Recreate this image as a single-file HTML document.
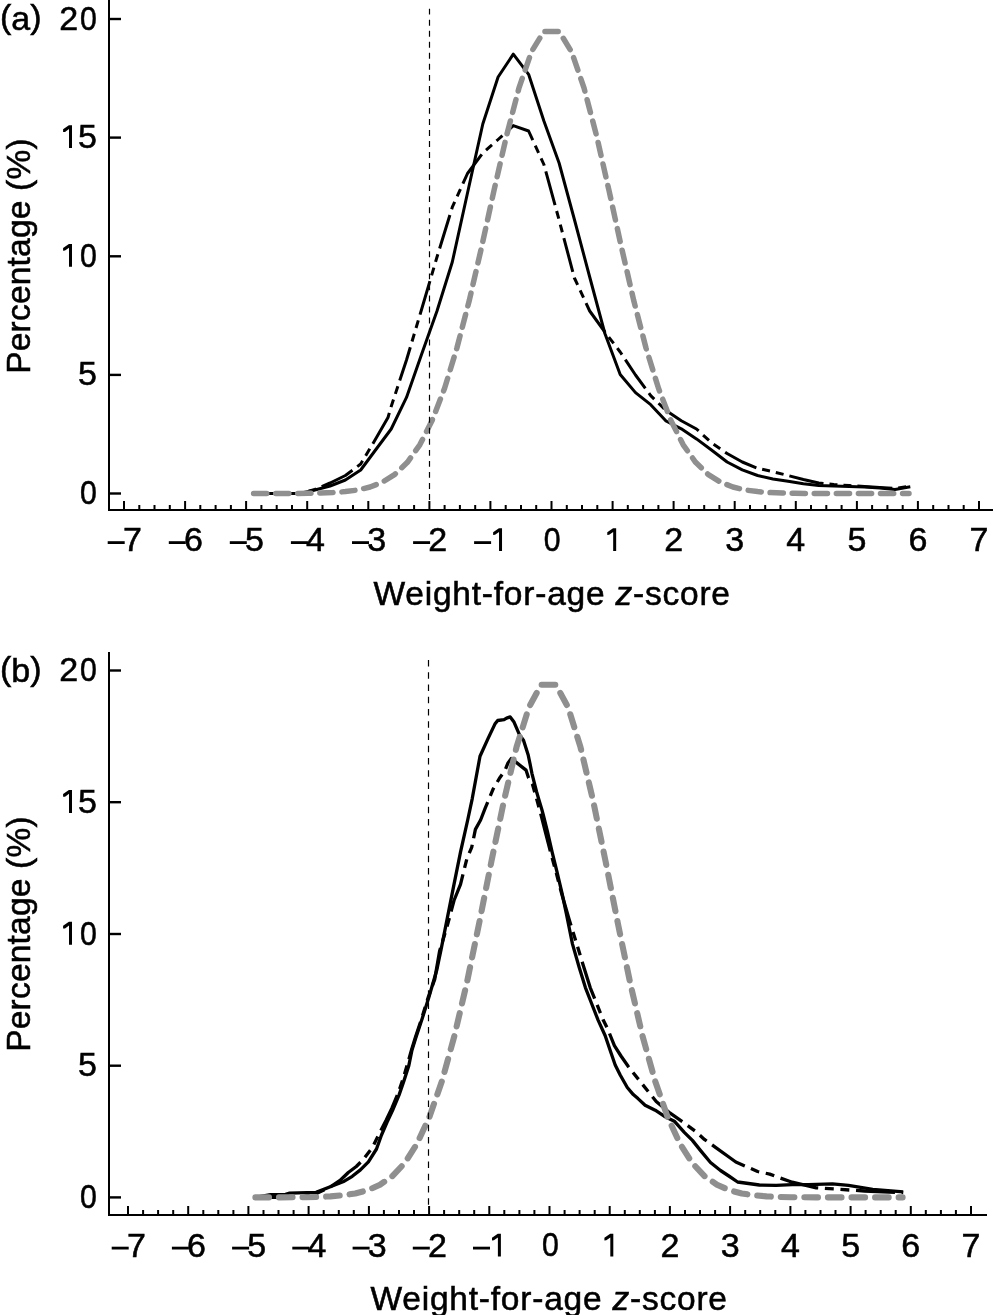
<!DOCTYPE html>
<html><head><meta charset="utf-8"><style>
html,body{margin:0;padding:0;background:#fff;}
svg{display:block;will-change:transform;}
</style></head><body>
<svg width="994" height="1315" viewBox="0 0 994 1315">
<rect width="994" height="1315" fill="#fff"/>
<polyline points="253.8,493.5 269.1,493.5 284.3,493.5 299.6,493.5 314.9,490.0 330.1,486.0 345.4,480.0 360.7,470.0 375.9,449.5 391.2,429.0 406.5,397.4 421.7,354.0 437.0,311.0 452.3,262.0 467.5,193.0 482.8,124.0 498.1,77.0 513.3,54.2 528.6,74.3 543.9,121.0 559.1,163.0 574.4,219.5 589.7,277.0 604.9,333.5 620.2,374.5 635.5,392.6 650.7,404.7 666.0,421.0 681.3,428.8 696.5,438.9 711.8,450.3 727.1,462.0 742.3,469.9 757.6,475.5 772.9,479.0 788.1,481.3 803.4,483.8 818.7,485.4 833.9,486.0 849.2,486.5 864.5,487.0 879.8,488.0 895.0,489.5 910.3,486.8" fill="none" stroke="#000" stroke-width="3.0" stroke-linejoin="round"/>
<polyline points="253.8,493.5 269.1,493.5 284.3,493.5 299.6,493.5 314.9,489.5 330.1,483.0 345.4,475.5 360.7,464.0 375.9,438.6 388.0,417.5 391.2,406.5 406.5,360.0 421.7,309.0 437.0,257.0 452.3,207.2 467.5,173.5 482.8,153.0 498.1,139.5 513.3,125.6 528.6,131.0 543.9,164.5 559.1,220.0 574.4,278.0 589.7,311.0 604.9,332.0 620.2,352.0 635.5,375.0 650.7,395.6 666.0,410.5 681.3,420.7 696.5,429.0 711.8,443.0 727.1,453.5 742.3,462.0 757.6,468.3 772.9,471.7 788.1,475.5 803.4,479.5 818.7,483.0 833.9,484.5 849.2,485.5 864.5,486.5 879.8,487.5 895.0,488.5 910.3,486.0" fill="none" stroke="#000" stroke-width="3.0" stroke-dasharray="35 6 8 6 8 6" stroke-linejoin="round"/>
<polyline points="253.6,493.5 258.5,493.5 270.9,493.5 283.3,493.5 295.8,493.4 308.1,493.3 320.5,493.0 332.9,492.6 345.4,491.6 357.8,490.0 370.1,487.0 382.5,482.1 394.9,474.3 407.4,462.3 419.8,444.8 432.1,420.5 444.6,388.3 456.9,348.0 469.4,300.0 481.8,246.2 494.1,190.0 506.6,135.5 519.0,87.9 531.4,51.9 543.8,31.6 559.2,31.6 571.6,51.9 584.0,87.9 596.5,135.5 608.9,190.0 621.2,246.2 633.6,300.0 646.0,348.0 658.5,388.3 670.9,420.5 683.2,444.8 695.6,462.3 708.0,474.3 720.5,482.1 732.9,487.0 745.2,490.0 757.6,491.6 770.0,492.6 782.5,493.0 794.9,493.3 807.2,493.4 819.7,493.5 832.0,493.5 844.5,493.5 856.9,493.5 869.2,493.5 881.7,493.5 894.0,493.5 906.5,493.5 909.0,493.5" fill="none" stroke="#8f8f8f" stroke-width="5.5" stroke-dasharray="13.2 8.877277285499442" stroke-dashoffset="0.00" stroke-linecap="round" stroke-linejoin="round"/>
<line x1="429.5" y1="8.7" x2="429.5" y2="500" stroke="#000" stroke-width="1.2" stroke-dasharray="5.9 5.13" stroke-linecap="butt"/>
<rect x="108" y="0" width="2" height="511" fill="#000"/>
<rect x="108" y="509" width="885" height="2" fill="#000"/>
<rect x="110" y="17.8" width="11" height="2.4" fill="#000"/>
<rect x="110" y="136.4" width="11" height="2.4" fill="#000"/>
<rect x="110" y="255.1" width="11" height="2.4" fill="#000"/>
<rect x="110" y="373.7" width="11" height="2.4" fill="#000"/>
<rect x="110" y="492.3" width="11" height="2.4" fill="#000"/>
<rect x="123.0" y="501" width="2" height="9" fill="#000"/>
<rect x="138.3" y="505" width="2" height="5" fill="#000"/>
<rect x="153.5" y="505" width="2" height="5" fill="#000"/>
<rect x="168.8" y="505" width="2" height="5" fill="#000"/>
<rect x="184.1" y="501" width="2" height="9" fill="#000"/>
<rect x="199.3" y="505" width="2" height="5" fill="#000"/>
<rect x="214.6" y="505" width="2" height="5" fill="#000"/>
<rect x="229.9" y="505" width="2" height="5" fill="#000"/>
<rect x="245.1" y="501" width="2" height="9" fill="#000"/>
<rect x="260.4" y="505" width="2" height="5" fill="#000"/>
<rect x="275.7" y="505" width="2" height="5" fill="#000"/>
<rect x="291.0" y="505" width="2" height="5" fill="#000"/>
<rect x="306.2" y="501" width="2" height="9" fill="#000"/>
<rect x="321.5" y="505" width="2" height="5" fill="#000"/>
<rect x="336.8" y="505" width="2" height="5" fill="#000"/>
<rect x="352.0" y="505" width="2" height="5" fill="#000"/>
<rect x="367.3" y="501" width="2" height="9" fill="#000"/>
<rect x="382.6" y="505" width="2" height="5" fill="#000"/>
<rect x="397.8" y="505" width="2" height="5" fill="#000"/>
<rect x="413.1" y="505" width="2" height="5" fill="#000"/>
<rect x="428.4" y="501" width="2" height="9" fill="#000"/>
<rect x="443.6" y="505" width="2" height="5" fill="#000"/>
<rect x="458.9" y="505" width="2" height="5" fill="#000"/>
<rect x="474.2" y="505" width="2" height="5" fill="#000"/>
<rect x="489.4" y="501" width="2" height="9" fill="#000"/>
<rect x="504.7" y="505" width="2" height="5" fill="#000"/>
<rect x="520.0" y="505" width="2" height="5" fill="#000"/>
<rect x="535.2" y="505" width="2" height="5" fill="#000"/>
<rect x="550.5" y="501" width="2" height="9" fill="#000"/>
<rect x="565.8" y="505" width="2" height="5" fill="#000"/>
<rect x="581.0" y="505" width="2" height="5" fill="#000"/>
<rect x="596.3" y="505" width="2" height="5" fill="#000"/>
<rect x="611.6" y="501" width="2" height="9" fill="#000"/>
<rect x="626.8" y="505" width="2" height="5" fill="#000"/>
<rect x="642.1" y="505" width="2" height="5" fill="#000"/>
<rect x="657.4" y="505" width="2" height="5" fill="#000"/>
<rect x="672.6" y="501" width="2" height="9" fill="#000"/>
<rect x="687.9" y="505" width="2" height="5" fill="#000"/>
<rect x="703.2" y="505" width="2" height="5" fill="#000"/>
<rect x="718.4" y="505" width="2" height="5" fill="#000"/>
<rect x="733.7" y="501" width="2" height="9" fill="#000"/>
<rect x="749.0" y="505" width="2" height="5" fill="#000"/>
<rect x="764.2" y="505" width="2" height="5" fill="#000"/>
<rect x="779.5" y="505" width="2" height="5" fill="#000"/>
<rect x="794.8" y="501" width="2" height="9" fill="#000"/>
<rect x="810.0" y="505" width="2" height="5" fill="#000"/>
<rect x="825.3" y="505" width="2" height="5" fill="#000"/>
<rect x="840.6" y="505" width="2" height="5" fill="#000"/>
<rect x="855.9" y="501" width="2" height="9" fill="#000"/>
<rect x="871.1" y="505" width="2" height="5" fill="#000"/>
<rect x="886.4" y="505" width="2" height="5" fill="#000"/>
<rect x="901.7" y="505" width="2" height="5" fill="#000"/>
<rect x="916.9" y="501" width="2" height="9" fill="#000"/>
<rect x="932.2" y="505" width="2" height="5" fill="#000"/>
<rect x="947.5" y="505" width="2" height="5" fill="#000"/>
<rect x="962.7" y="505" width="2" height="5" fill="#000"/>
<rect x="978.0" y="501" width="2" height="9" fill="#000"/>
<text x="78.1" y="29.5" text-anchor="end" font-family="Liberation Sans, sans-serif" stroke="#000" stroke-width="0.55" font-size="34">2</text>
<text x="96.9" y="29.5" text-anchor="end" transform="translate(96.9 0) scale(0.89 1) translate(-96.9 0)" font-family="Liberation Sans, sans-serif" stroke="#000" stroke-width="0.55" font-size="34">0</text>
<path d="M72.00,125.33 L72.00,148.12 L69.00,148.12 L69.00,129.03 L65.00,131.93 L63.10,132.03 L63.10,129.32 L68.90,125.33 Z" fill="#000"/>
<text x="97" y="148.1" text-anchor="end" font-family="Liberation Sans, sans-serif" stroke="#000" stroke-width="0.55" font-size="34">5</text>
<path d="M72.00,243.95 L72.00,266.75 L69.00,266.75 L69.00,247.65 L65.00,250.55 L63.10,250.65 L63.10,247.95 L68.90,243.95 Z" fill="#000"/>
<text x="96.9" y="266.8" text-anchor="end" transform="translate(96.9 0) scale(0.89 1) translate(-96.9 0)" font-family="Liberation Sans, sans-serif" stroke="#000" stroke-width="0.55" font-size="34">0</text>
<text x="97" y="385.4" text-anchor="end" font-family="Liberation Sans, sans-serif" stroke="#000" stroke-width="0.55" font-size="34">5</text>
<text x="96.9" y="504.0" text-anchor="end" transform="translate(96.9 0) scale(0.89 1) translate(-96.9 0)" font-family="Liberation Sans, sans-serif" stroke="#000" stroke-width="0.55" font-size="34">0</text>
<rect x="107.7" y="541.2" width="17" height="2.8" fill="#000"/>
<text x="122.9" y="551" font-family="Liberation Sans, sans-serif" stroke="#000" stroke-width="0.55" font-size="34">7</text>
<rect x="168.8" y="541.2" width="17" height="2.8" fill="#000"/>
<text x="184.0" y="551" font-family="Liberation Sans, sans-serif" stroke="#000" stroke-width="0.55" font-size="34">6</text>
<rect x="229.8" y="541.2" width="17" height="2.8" fill="#000"/>
<text x="245.0" y="551" font-family="Liberation Sans, sans-serif" stroke="#000" stroke-width="0.55" font-size="34">5</text>
<rect x="290.9" y="541.2" width="17" height="2.8" fill="#000"/>
<text x="306.1" y="551" font-family="Liberation Sans, sans-serif" stroke="#000" stroke-width="0.55" font-size="34">4</text>
<rect x="352.0" y="541.2" width="17" height="2.8" fill="#000"/>
<text x="367.2" y="551" font-family="Liberation Sans, sans-serif" stroke="#000" stroke-width="0.55" font-size="34">3</text>
<rect x="413.1" y="541.2" width="17" height="2.8" fill="#000"/>
<text x="428.3" y="551" font-family="Liberation Sans, sans-serif" stroke="#000" stroke-width="0.55" font-size="34">2</text>
<rect x="474.1" y="541.2" width="17" height="2.8" fill="#000"/>
<path d="M502.03,528.20 L502.03,551.00 L499.03,551.00 L499.03,531.90 L495.03,534.80 L493.13,534.90 L493.13,532.20 L498.93,528.20 Z" fill="#000"/>
<text x="552.3" y="551.0" text-anchor="middle" transform="translate(552.3 0) scale(0.89 1) translate(-552.3 0)" font-family="Liberation Sans, sans-serif" stroke="#000" stroke-width="0.55" font-size="34">0</text>
<path d="M616.17,528.20 L616.17,551.00 L613.17,551.00 L613.17,531.90 L609.17,534.80 L607.27,534.90 L607.27,532.20 L613.07,528.20 Z" fill="#000"/>
<text x="673.6" y="551" text-anchor="middle" font-family="Liberation Sans, sans-serif" stroke="#000" stroke-width="0.55" font-size="34">2</text>
<text x="734.7" y="551" text-anchor="middle" font-family="Liberation Sans, sans-serif" stroke="#000" stroke-width="0.55" font-size="34">3</text>
<text x="795.8" y="551" text-anchor="middle" font-family="Liberation Sans, sans-serif" stroke="#000" stroke-width="0.55" font-size="34">4</text>
<text x="856.9" y="551" text-anchor="middle" font-family="Liberation Sans, sans-serif" stroke="#000" stroke-width="0.55" font-size="34">5</text>
<text x="917.9" y="551" text-anchor="middle" font-family="Liberation Sans, sans-serif" stroke="#000" stroke-width="0.55" font-size="34">6</text>
<text x="979.0" y="551" text-anchor="middle" font-family="Liberation Sans, sans-serif" stroke="#000" stroke-width="0.55" font-size="34">7</text>
<text x="373.5" y="605" font-family="Liberation Sans, sans-serif" stroke="#000" stroke-width="0.55" font-size="33.5" letter-spacing="0.78">Weight-for-age <tspan font-style="italic">z</tspan>-score</text>
<text transform="translate(30,256) rotate(-90)" text-anchor="middle" font-family="Liberation Sans, sans-serif" stroke="#000" stroke-width="0.55" font-size="33.5" letter-spacing="0.2">Percentage (%)</text>
<text x="0" y="30" font-family="Liberation Sans, sans-serif" stroke="#000" stroke-width="0.55" font-size="34"><tspan dy="-2.5">(</tspan><tspan dy="2.5">a</tspan><tspan dy="-2.5">)</tspan></text>
<polyline points="255.5,1197.4 270.5,1194.6 285.6,1194.4 289.0,1193.2 316.1,1192.4 332.2,1186.0 344.3,1181.2 352.3,1176.3 360.4,1169.9 368.4,1161.9 376.5,1149.0 381.5,1135.0 387.0,1122.4 392.6,1110.4 399.0,1095.1 404.0,1080.6 408.7,1066.1 412.0,1050.0 415.9,1037.6 422.3,1018.3 428.8,997.4 436.8,970.0 441.2,948.8 447.6,916.6 454.0,884.4 460.5,852.2 467.7,820.0 472.2,798.8 480.0,756.3 488.0,738.6 494.9,724.1 497.7,720.5 504.1,719.7 506.6,718.1 510.2,716.9 513.8,721.7 519.4,734.6 523.5,740.2 528.2,755.0 530.1,764.1 531.9,773.3 534.2,782.4 536.5,791.5 539.2,800.7 541.9,809.8 543.3,815.0 547.4,831.5 552.2,852.4 557.0,871.8 561.9,892.7 566.4,914.0 572.5,944.1 579.0,966.7 585.4,987.6 591.0,1002.0 598.1,1020.1 605.2,1035.7 610.2,1050.5 615.2,1065.0 620.2,1075.0 627.3,1087.5 633.3,1094.6 638.0,1098.6 645.1,1105.2 655.2,1110.2 664.2,1116.2 674.3,1121.2 684.3,1132.3 692.4,1140.4 700.4,1150.4 710.5,1162.5 720.5,1170.5 729.6,1176.5 737.6,1182.0 759.4,1185.0 776.1,1185.4 792.2,1184.6 808.3,1184.6 832.4,1183.8 848.5,1185.4 872.7,1189.4 903.2,1191.9" fill="none" stroke="#000" stroke-width="3.3" stroke-linejoin="round"/>
<polyline points="255.5,1197.4 300.0,1197.4 316.0,1193.8 330.0,1187.0 340.0,1180.5 348.3,1172.5 356.3,1166.5 362.8,1160.0 372.4,1147.5 378.1,1136.0 386.0,1120.5 392.0,1108.0 398.0,1093.5 403.0,1079.0 407.5,1064.0 411.5,1050.0 415.5,1037.0 422.0,1017.5 428.3,997.0 434.7,979.4 439.6,951.0 447.6,924.6 454.0,900.5 460.5,884.4 466.9,858.6 471.7,847.4 475.4,829.4 480.6,820.0 485.1,808.4 493.1,789.1 500.0,777.4 504.8,770.9 508.0,762.9 511.3,758.5 516.9,762.9 526.0,770.1 528.6,778.0 532.4,784.0 536.5,798.4 540.5,813.0 545.4,832.0 550.5,852.0 556.0,872.0 561.5,893.0 566.7,911.0 569.3,920.0 575.8,940.9 582.2,961.9 590.2,987.6 596.7,1003.7 603.1,1019.8 607.9,1029.5 614.4,1045.6 621.0,1056.0 628.3,1066.5 639.4,1080.5 647.2,1090.3 656.2,1101.5 670.2,1113.2 683.3,1122.3 695.4,1131.3 704.4,1139.4 715.5,1147.4 729.6,1157.5 735.8,1162.0 757.6,1171.5 769.7,1174.1 779.3,1177.7 792.2,1182.2 816.3,1187.8 840.5,1189.4 864.6,1191.0 903.2,1192.7" fill="none" stroke="#000" stroke-width="3.3" stroke-dasharray="39 6.7 8.9 6.7 8.9 6.7" stroke-linejoin="round"/>
<polyline points="255.4,1197.4 256.0,1197.4 268.4,1197.4 280.8,1197.4 293.2,1197.3 305.6,1197.2 318.0,1196.9 330.4,1196.4 342.9,1195.3 355.2,1193.5 367.6,1190.2 380.0,1184.8 392.4,1176.1 404.9,1162.8 417.2,1143.4 429.6,1116.4 442.1,1080.7 454.4,1035.9 466.9,982.6 479.2,923.0 491.6,860.5 504.1,800.1 516.5,747.2 528.9,707.3 541.2,684.7 555.8,684.7 568.1,707.3 580.5,747.2 593.0,800.1 605.4,860.5 617.8,923.0 630.1,982.6 642.5,1035.9 655.0,1080.7 667.4,1116.4 679.8,1143.4 692.1,1162.8 704.5,1176.1 717.0,1184.8 729.4,1190.2 741.8,1193.5 754.1,1195.3 766.5,1196.4 779.0,1196.9 791.4,1197.2 803.8,1197.3 816.2,1197.4 828.5,1197.4 841.0,1197.4 853.4,1197.4 865.8,1197.4 878.2,1197.4 890.5,1197.4 902.6,1197.4" fill="none" stroke="#8f8f8f" stroke-width="6.1" stroke-dasharray="13.6 9.972682132145701" stroke-dashoffset="0.00" stroke-linecap="round" stroke-linejoin="round"/>
<line x1="428.5" y1="660.1" x2="428.5" y2="1205" stroke="#000" stroke-width="1.2" stroke-dasharray="6.5 5.73" stroke-linecap="butt"/>
<rect x="108" y="652" width="2" height="564" fill="#000"/>
<rect x="108" y="1214" width="879" height="2" fill="#000"/>
<rect x="110" y="669.3" width="11" height="2.4" fill="#000"/>
<rect x="110" y="801.0" width="11" height="2.4" fill="#000"/>
<rect x="110" y="932.8" width="11" height="2.4" fill="#000"/>
<rect x="110" y="1064.5" width="11" height="2.4" fill="#000"/>
<rect x="110" y="1196.2" width="11" height="2.4" fill="#000"/>
<rect x="127.0" y="1206" width="2" height="9" fill="#000"/>
<rect x="142.1" y="1210" width="2" height="5" fill="#000"/>
<rect x="157.1" y="1210" width="2" height="5" fill="#000"/>
<rect x="172.2" y="1210" width="2" height="5" fill="#000"/>
<rect x="187.2" y="1206" width="2" height="9" fill="#000"/>
<rect x="202.3" y="1210" width="2" height="5" fill="#000"/>
<rect x="217.3" y="1210" width="2" height="5" fill="#000"/>
<rect x="232.4" y="1210" width="2" height="5" fill="#000"/>
<rect x="247.4" y="1206" width="2" height="9" fill="#000"/>
<rect x="262.5" y="1210" width="2" height="5" fill="#000"/>
<rect x="277.5" y="1210" width="2" height="5" fill="#000"/>
<rect x="292.6" y="1210" width="2" height="5" fill="#000"/>
<rect x="307.6" y="1206" width="2" height="9" fill="#000"/>
<rect x="322.7" y="1210" width="2" height="5" fill="#000"/>
<rect x="337.8" y="1210" width="2" height="5" fill="#000"/>
<rect x="352.8" y="1210" width="2" height="5" fill="#000"/>
<rect x="367.9" y="1206" width="2" height="9" fill="#000"/>
<rect x="382.9" y="1210" width="2" height="5" fill="#000"/>
<rect x="398.0" y="1210" width="2" height="5" fill="#000"/>
<rect x="413.0" y="1210" width="2" height="5" fill="#000"/>
<rect x="428.1" y="1206" width="2" height="9" fill="#000"/>
<rect x="443.1" y="1210" width="2" height="5" fill="#000"/>
<rect x="458.2" y="1210" width="2" height="5" fill="#000"/>
<rect x="473.2" y="1210" width="2" height="5" fill="#000"/>
<rect x="488.3" y="1206" width="2" height="9" fill="#000"/>
<rect x="503.3" y="1210" width="2" height="5" fill="#000"/>
<rect x="518.4" y="1210" width="2" height="5" fill="#000"/>
<rect x="533.4" y="1210" width="2" height="5" fill="#000"/>
<rect x="548.5" y="1206" width="2" height="9" fill="#000"/>
<rect x="563.6" y="1210" width="2" height="5" fill="#000"/>
<rect x="578.6" y="1210" width="2" height="5" fill="#000"/>
<rect x="593.7" y="1210" width="2" height="5" fill="#000"/>
<rect x="608.7" y="1206" width="2" height="9" fill="#000"/>
<rect x="623.8" y="1210" width="2" height="5" fill="#000"/>
<rect x="638.8" y="1210" width="2" height="5" fill="#000"/>
<rect x="653.9" y="1210" width="2" height="5" fill="#000"/>
<rect x="668.9" y="1206" width="2" height="9" fill="#000"/>
<rect x="684.0" y="1210" width="2" height="5" fill="#000"/>
<rect x="699.0" y="1210" width="2" height="5" fill="#000"/>
<rect x="714.1" y="1210" width="2" height="5" fill="#000"/>
<rect x="729.1" y="1206" width="2" height="9" fill="#000"/>
<rect x="744.2" y="1210" width="2" height="5" fill="#000"/>
<rect x="759.2" y="1210" width="2" height="5" fill="#000"/>
<rect x="774.3" y="1210" width="2" height="5" fill="#000"/>
<rect x="789.4" y="1206" width="2" height="9" fill="#000"/>
<rect x="804.4" y="1210" width="2" height="5" fill="#000"/>
<rect x="819.5" y="1210" width="2" height="5" fill="#000"/>
<rect x="834.5" y="1210" width="2" height="5" fill="#000"/>
<rect x="849.6" y="1206" width="2" height="9" fill="#000"/>
<rect x="864.6" y="1210" width="2" height="5" fill="#000"/>
<rect x="879.7" y="1210" width="2" height="5" fill="#000"/>
<rect x="894.7" y="1210" width="2" height="5" fill="#000"/>
<rect x="909.8" y="1206" width="2" height="9" fill="#000"/>
<rect x="924.8" y="1210" width="2" height="5" fill="#000"/>
<rect x="939.9" y="1210" width="2" height="5" fill="#000"/>
<rect x="954.9" y="1210" width="2" height="5" fill="#000"/>
<rect x="970.0" y="1206" width="2" height="9" fill="#000"/>
<text x="78.1" y="681.2" text-anchor="end" font-family="Liberation Sans, sans-serif" stroke="#000" stroke-width="0.55" font-size="34">2</text>
<text x="96.9" y="681.2" text-anchor="end" transform="translate(96.9 0) scale(0.89 1) translate(-96.9 0)" font-family="Liberation Sans, sans-serif" stroke="#000" stroke-width="0.55" font-size="34">0</text>
<path d="M72.00,790.10 L72.00,812.90 L69.00,812.90 L69.00,793.80 L65.00,796.70 L63.10,796.80 L63.10,794.10 L68.90,790.10 Z" fill="#000"/>
<text x="97" y="812.9" text-anchor="end" font-family="Liberation Sans, sans-serif" stroke="#000" stroke-width="0.55" font-size="34">5</text>
<path d="M72.00,921.85 L72.00,944.65 L69.00,944.65 L69.00,925.55 L65.00,928.45 L63.10,928.55 L63.10,925.85 L68.90,921.85 Z" fill="#000"/>
<text x="96.9" y="944.7" text-anchor="end" transform="translate(96.9 0) scale(0.89 1) translate(-96.9 0)" font-family="Liberation Sans, sans-serif" stroke="#000" stroke-width="0.55" font-size="34">0</text>
<text x="97" y="1076.4" text-anchor="end" font-family="Liberation Sans, sans-serif" stroke="#000" stroke-width="0.55" font-size="34">5</text>
<text x="96.9" y="1208.1" text-anchor="end" transform="translate(96.9 0) scale(0.89 1) translate(-96.9 0)" font-family="Liberation Sans, sans-serif" stroke="#000" stroke-width="0.55" font-size="34">0</text>
<rect x="111.7" y="1246.7" width="17" height="2.8" fill="#000"/>
<text x="126.9" y="1256.5" font-family="Liberation Sans, sans-serif" stroke="#000" stroke-width="0.55" font-size="34">7</text>
<rect x="171.9" y="1246.7" width="17" height="2.8" fill="#000"/>
<text x="187.1" y="1256.5" font-family="Liberation Sans, sans-serif" stroke="#000" stroke-width="0.55" font-size="34">6</text>
<rect x="232.1" y="1246.7" width="17" height="2.8" fill="#000"/>
<text x="247.3" y="1256.5" font-family="Liberation Sans, sans-serif" stroke="#000" stroke-width="0.55" font-size="34">5</text>
<rect x="292.3" y="1246.7" width="17" height="2.8" fill="#000"/>
<text x="307.5" y="1256.5" font-family="Liberation Sans, sans-serif" stroke="#000" stroke-width="0.55" font-size="34">4</text>
<rect x="352.6" y="1246.7" width="17" height="2.8" fill="#000"/>
<text x="367.8" y="1256.5" font-family="Liberation Sans, sans-serif" stroke="#000" stroke-width="0.55" font-size="34">3</text>
<rect x="412.8" y="1246.7" width="17" height="2.8" fill="#000"/>
<text x="428.0" y="1256.5" font-family="Liberation Sans, sans-serif" stroke="#000" stroke-width="0.55" font-size="34">2</text>
<rect x="473.0" y="1246.7" width="17" height="2.8" fill="#000"/>
<path d="M500.89,1233.70 L500.89,1256.50 L497.89,1256.50 L497.89,1237.40 L493.89,1240.30 L491.99,1240.40 L491.99,1237.70 L497.79,1233.70 Z" fill="#000"/>
<text x="550.3" y="1256.5" text-anchor="middle" transform="translate(550.3 0) scale(0.89 1) translate(-550.3 0)" font-family="Liberation Sans, sans-serif" stroke="#000" stroke-width="0.55" font-size="34">0</text>
<path d="M613.31,1233.70 L613.31,1256.50 L610.31,1256.50 L610.31,1237.40 L606.31,1240.30 L604.41,1240.40 L604.41,1237.70 L610.21,1233.70 Z" fill="#000"/>
<text x="669.9" y="1256.5" text-anchor="middle" font-family="Liberation Sans, sans-serif" stroke="#000" stroke-width="0.55" font-size="34">2</text>
<text x="730.1" y="1256.5" text-anchor="middle" font-family="Liberation Sans, sans-serif" stroke="#000" stroke-width="0.55" font-size="34">3</text>
<text x="790.4" y="1256.5" text-anchor="middle" font-family="Liberation Sans, sans-serif" stroke="#000" stroke-width="0.55" font-size="34">4</text>
<text x="850.6" y="1256.5" text-anchor="middle" font-family="Liberation Sans, sans-serif" stroke="#000" stroke-width="0.55" font-size="34">5</text>
<text x="910.8" y="1256.5" text-anchor="middle" font-family="Liberation Sans, sans-serif" stroke="#000" stroke-width="0.55" font-size="34">6</text>
<text x="971.0" y="1256.5" text-anchor="middle" font-family="Liberation Sans, sans-serif" stroke="#000" stroke-width="0.55" font-size="34">7</text>
<text x="370.5" y="1310" font-family="Liberation Sans, sans-serif" stroke="#000" stroke-width="0.55" font-size="33.5" letter-spacing="0.78">Weight-for-age <tspan font-style="italic">z</tspan>-score</text>
<text transform="translate(30,934) rotate(-90)" text-anchor="middle" font-family="Liberation Sans, sans-serif" stroke="#000" stroke-width="0.55" font-size="33.5" letter-spacing="0.2">Percentage (%)</text>
<text x="0" y="682" font-family="Liberation Sans, sans-serif" stroke="#000" stroke-width="0.55" font-size="34"><tspan dy="-2.5">(</tspan><tspan dy="2.5">b</tspan><tspan dy="-2.5">)</tspan></text>
</svg>
</body></html>
